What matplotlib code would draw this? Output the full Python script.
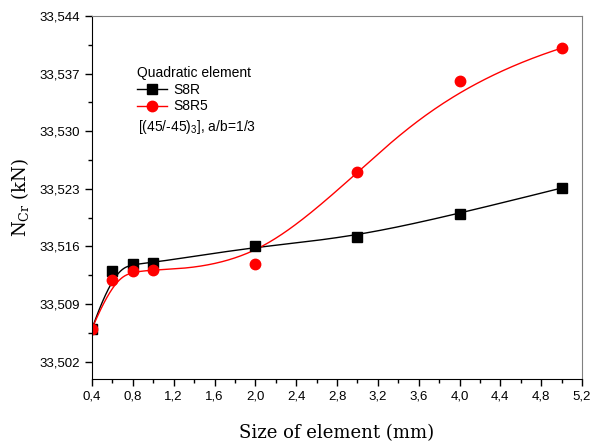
import numpy as np
import matplotlib.pyplot as plt
from matplotlib.ticker import MultipleLocator, FuncFormatter

size = [0.4, 0.6, 0.8, 1.0, 2.0, 3.0, 4.0, 5.0]
s8r = [33.5060, 33.5130, 33.5139, 33.5140, 33.5160, 33.5171, 33.5200, 33.5231]
s8r5 = [33.5060, 33.5119, 33.5130, 33.5131, 33.5139, 33.5250, 33.5361, 33.5401]


def bspline(xs, ys, n=400):
    # clamped uniform cubic B-spline, data points used as control points
    P = np.column_stack([xs, ys])
    k = 3
    m = len(P)
    knots = np.concatenate([np.zeros(k), np.linspace(0, 1, m - k + 1), np.ones(k)])
    t = np.linspace(0, 1 - 1e-9, n)

    def basis(i, p, t):
        if p == 0:
            return np.where((knots[i] <= t) & (t < knots[i + 1]), 1.0, 0.0)
        a = 0.0
        if knots[i + p] != knots[i]:
            a = (t - knots[i]) / (knots[i + p] - knots[i]) * basis(i, p - 1, t)
        b = 0.0
        if knots[i + p + 1] != knots[i + 1]:
            b = (knots[i + p + 1] - t) / (knots[i + p + 1] - knots[i + 1]) * basis(i + 1, p - 1, t)
        return a + b

    B = np.array([basis(i, k, t) for i in range(m)])
    curve = B.T @ P
    curve = np.vstack([curve, P[-1]])
    return curve[:, 0], curve[:, 1]


fig = plt.figure(figsize=(5.92, 4.45), dpi=100)
ax = fig.add_axes([92 / 592, 1 - 379 / 445, 490 / 592, 363 / 445])

bx, by = bspline(size, s8r)
rx, ry = bspline(size, s8r5)
ax.plot(bx, by, color='black', lw=1.0)
ax.plot(rx, ry, color='red', lw=1.0)
ax.plot(size, s8r, 's', color='black', ms=7, ls='none')
ax.plot(size, s8r5, 'o', color='red', ms=7.5, ls='none')

# legend handles
h1, = ax.plot([], [], '-s', color='black', ms=7, lw=1.0, label='S8R')
h2, = ax.plot([], [], '-o', color='red', ms=7.5, lw=1.0, label='S8R5')
leg = ax.legend(handles=[h1, h2], title='Quadratic element', loc='upper left',
                bbox_to_anchor=(0.08, 0.878), frameon=False, alignment='left',
                prop={'family': 'Liberation Sans', 'size': 10}, handlelength=2.2,
                handletextpad=0.4, borderaxespad=0, labelspacing=0.2)
leg.get_title().set_fontfamily('Liberation Sans')
leg.get_title().set_fontsize(10)
ax.text(0.093, 0.718, r'[(45/-45)$_{\mathregular{3}}$], a/b=1/3', transform=ax.transAxes,
        family='Liberation Sans', fontsize=10, va='top')

ax.set_xlim(0.4, 5.2)
ax.set_ylim(33.4999, 33.544)
ax.xaxis.set_major_locator(MultipleLocator(0.4))
ax.xaxis.set_minor_locator(MultipleLocator(0.2))
ax.set_yticks(np.arange(33.502, 33.5441, 0.007))
ax.xaxis.set_major_formatter(FuncFormatter(lambda v, p: f'{v:.1f}'.replace('.', ',')))
ax.yaxis.set_major_formatter(FuncFormatter(lambda v, p: f'{v:.3f}'.replace('.', ',')))
ax.yaxis.set_minor_locator(plt.FixedLocator(np.arange(33.5055, 33.544, 0.007)))

for lab in ax.get_xticklabels() + ax.get_yticklabels():
    lab.set_fontfamily('Liberation Sans')
    lab.set_fontsize(9.5)
ax.tick_params(which='major', direction='out', length=5, width=1)
ax.tick_params(which='minor', direction='out', length=3, width=1)
ax.spines['top'].set_color('#808080')
ax.spines['right'].set_color('#808080')

ax.set_xlabel('Size of element (mm)', family='DejaVu Serif', fontsize=13, labelpad=15)
ax.set_ylabel(r'N$_{\mathregular{Cr}}$ (kN)', family='DejaVu Serif', fontsize=13, labelpad=6)

fig.savefig('out.png', dpi=100)
